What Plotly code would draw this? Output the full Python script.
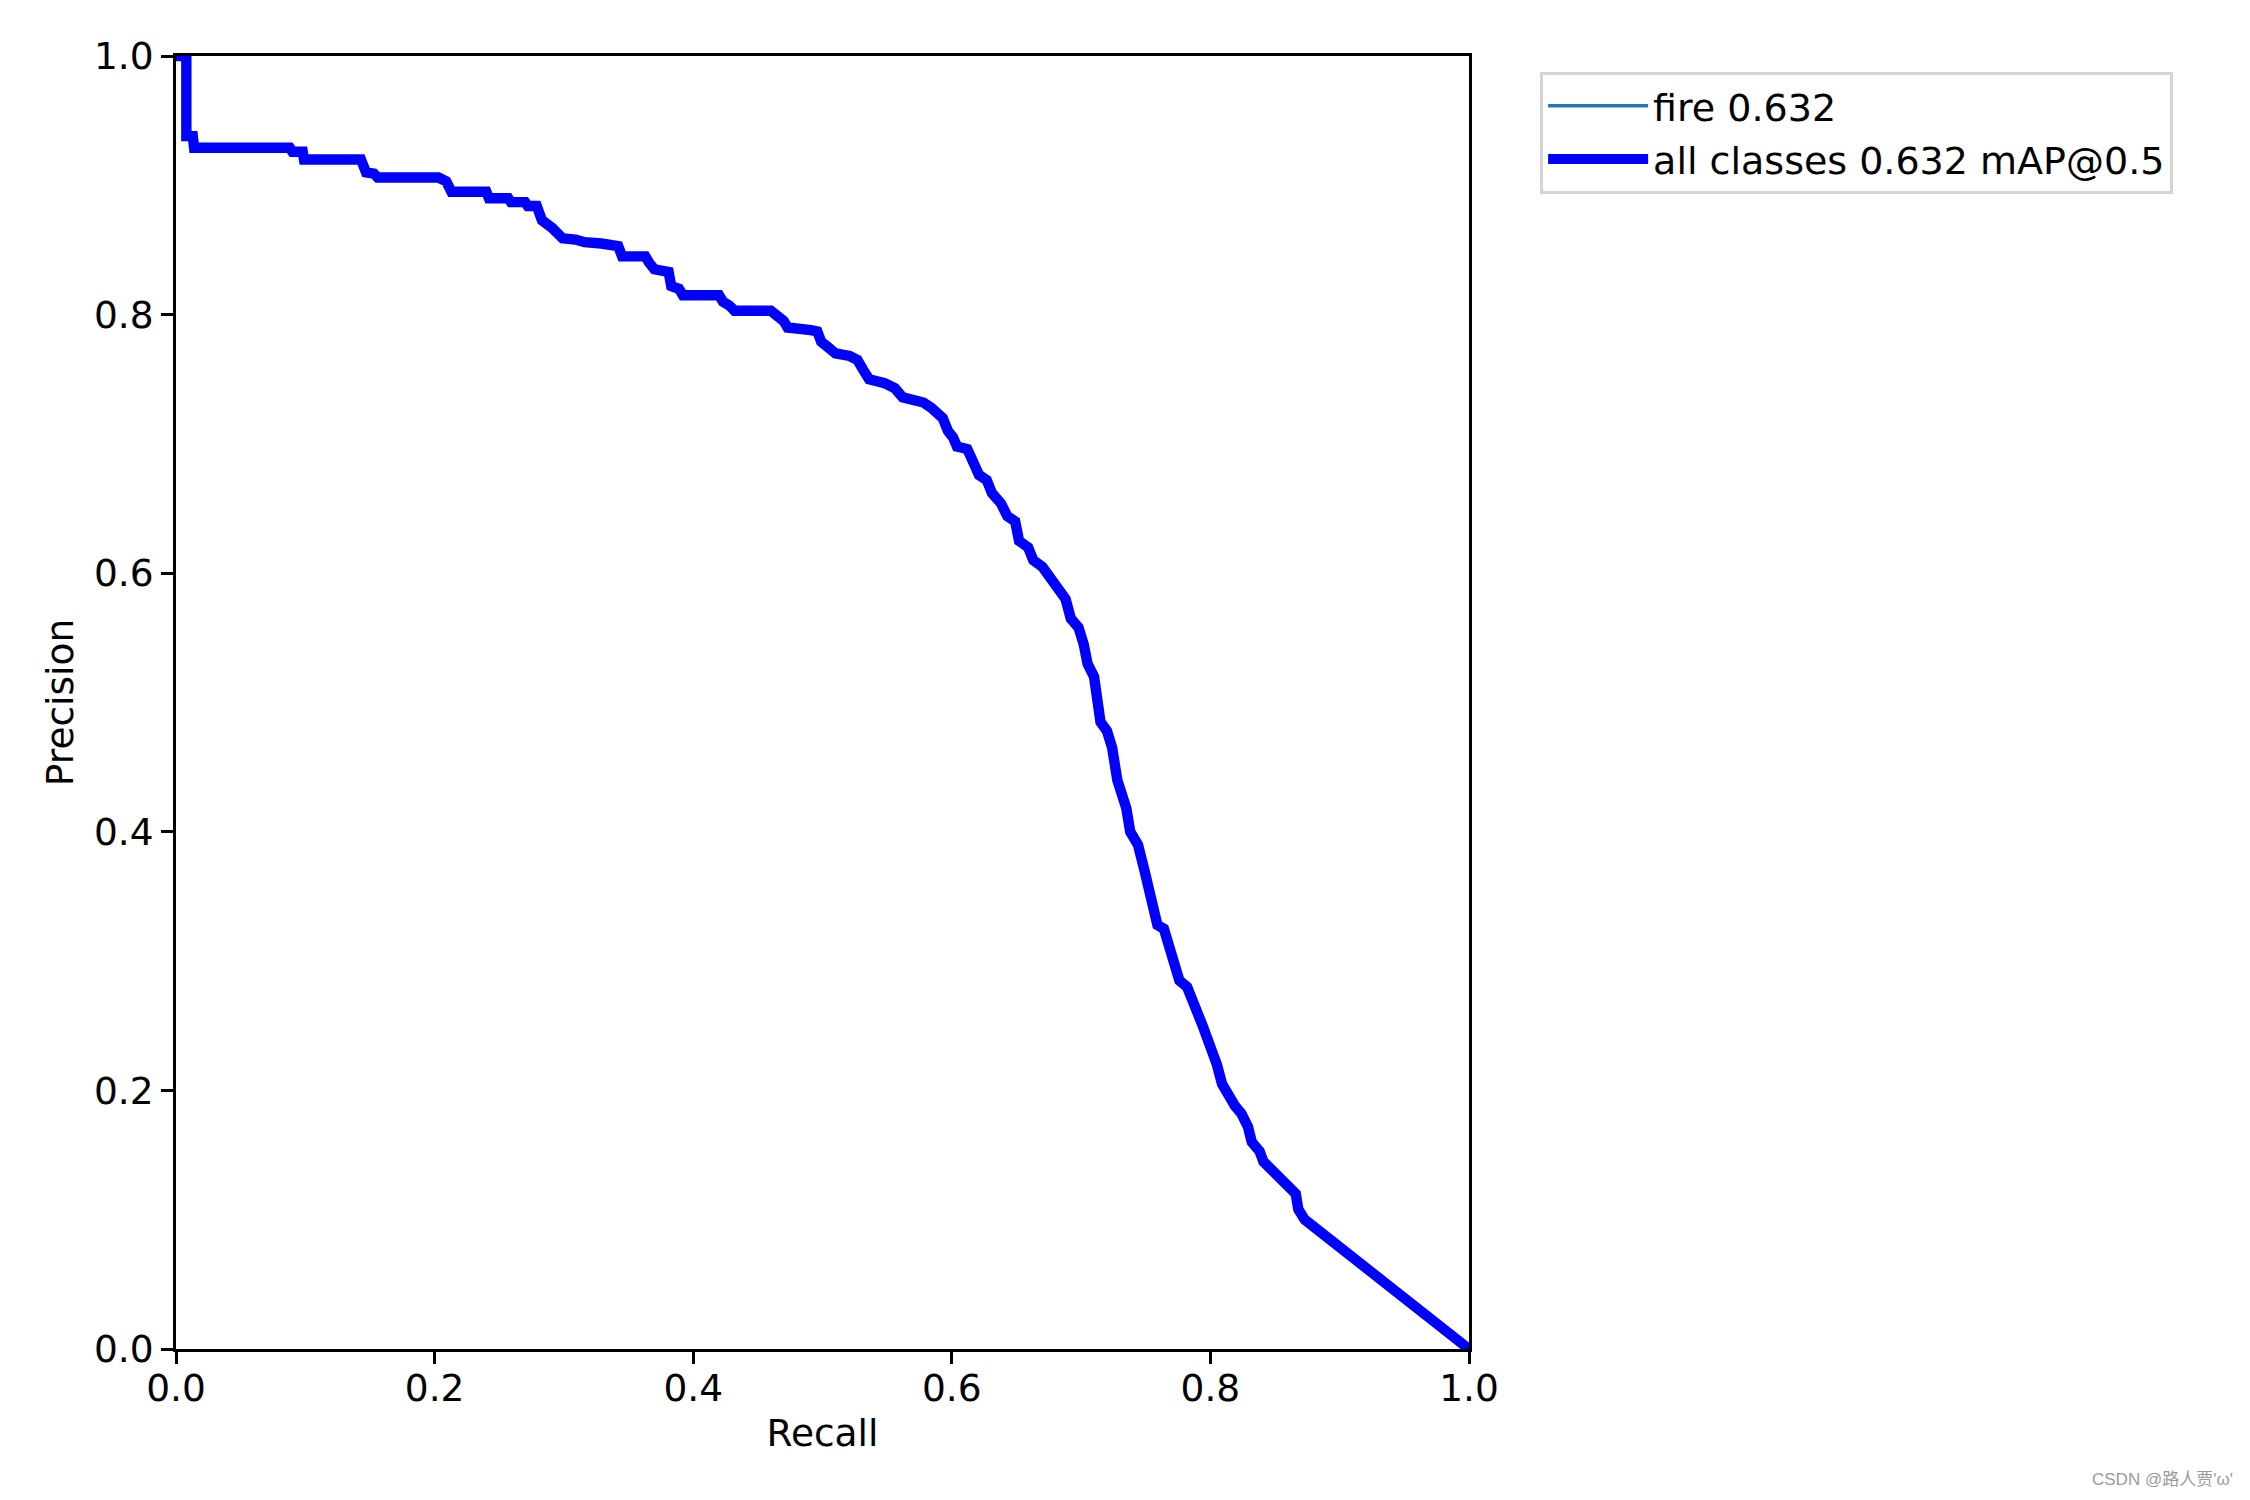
import plotly.graph_objects as go

# PR curve data (recall, precision)
recall = [0.0, 0.008, 0.008, 0.013, 0.014, 0.088, 0.090, 0.098, 0.099, 0.143, 0.147, 0.153, 0.156,
          0.203, 0.209, 0.213, 0.240, 0.242, 0.257, 0.259, 0.270, 0.272, 0.279, 0.283, 0.291, 0.299,
          0.309, 0.316, 0.329, 0.333, 0.342, 0.345, 0.363, 0.366, 0.370, 0.381, 0.383, 0.389, 0.392,
          0.420, 0.423, 0.428, 0.432, 0.460, 0.465, 0.470, 0.473, 0.487, 0.491, 0.496, 0.499, 0.504,
          0.510, 0.521, 0.527, 0.531, 0.536, 0.548, 0.556, 0.562, 0.570, 0.578, 0.584, 0.589, 0.593,
          0.597, 0.601, 0.604, 0.612, 0.617, 0.621, 0.627, 0.631, 0.638, 0.643, 0.649, 0.652, 0.659,
          0.663, 0.670, 0.675, 0.682, 0.688, 0.692, 0.698, 0.702, 0.705, 0.710, 0.712, 0.715, 0.720,
          0.724, 0.728, 0.732, 0.735, 0.738, 0.744, 0.749, 0.752, 0.756, 0.759, 0.764, 0.769, 0.773,
          0.776, 0.782, 0.787, 0.790, 0.794, 0.798, 0.802, 0.805, 0.809, 0.814, 0.819, 0.824, 0.829,
          0.832, 0.838, 0.841, 0.848, 0.852, 0.858, 0.866, 0.868, 0.873, 1.0]
precision = [1.0, 1.0, 0.938, 0.938, 0.929, 0.929, 0.926, 0.926, 0.920, 0.920, 0.910, 0.909, 0.906,
             0.906, 0.903, 0.895, 0.895, 0.890, 0.890, 0.887, 0.887, 0.884, 0.884, 0.873, 0.867, 0.859,
             0.858, 0.856, 0.855, 0.854, 0.853, 0.845, 0.845, 0.840, 0.835, 0.833, 0.822, 0.820, 0.815,
             0.815, 0.810, 0.807, 0.803, 0.803, 0.800, 0.795, 0.790, 0.790, 0.788, 0.787, 0.779, 0.775,
             0.770, 0.768, 0.765, 0.758, 0.750, 0.747, 0.743, 0.736, 0.735, 0.732, 0.728, 0.723, 0.720,
             0.710, 0.705, 0.698, 0.696, 0.685, 0.676, 0.672, 0.662, 0.654, 0.644, 0.640, 0.625, 0.620,
             0.610, 0.605, 0.598, 0.590, 0.580, 0.565, 0.558, 0.545, 0.530, 0.520, 0.500, 0.485, 0.478,
             0.465, 0.440, 0.428, 0.418, 0.400, 0.390, 0.370, 0.355, 0.345, 0.328, 0.325, 0.310, 0.295,
             0.285, 0.280, 0.270, 0.260, 0.250, 0.240, 0.230, 0.220, 0.205, 0.195, 0.188, 0.182, 0.172,
             0.160, 0.153, 0.145, 0.138, 0.132, 0.126, 0.120, 0.108, 0.100, 0.0]

class_name = "fire"
class_ap = 0.632
map50 = 0.632
tick_vals = [0.0, 0.2, 0.4, 0.6, 0.8, 1.0]
tick_text = ["0.0", "0.2", "0.4", "0.6", "0.8", "1.0"]

FONT = "DejaVu Sans"
FS = 37.5
LFS = 38

fig = go.Figure()
fig.add_trace(go.Scatter(x=recall, y=precision, mode="lines",
                         name=f"{class_name} {class_ap:.3f}", legendgroup="a",
                         line=dict(color="#1f77b4", width=3.5)))
fig.add_trace(go.Scatter(x=recall, y=precision, mode="lines",
                         name=f"all classes {map50:.3f} mAP@0.5", legendgroup="b",
                         line=dict(color="#0000ff", width=10.4)))

axis_common = dict(
    range=[0, 1], showgrid=False, zeroline=False, showline=True, mirror=True,
    linecolor="black", linewidth=2.8, ticks="outside", ticklen=12, tickwidth=2.8,
    tickcolor="black", tickvals=tick_vals, ticktext=tick_text,
    tickfont=dict(family=FONT, size=FS, color="black"),
)

fig.update_xaxes(**axis_common, ticklabelstandoff=-8,
                 title=dict(text="Recall", font=dict(family=FONT, size=FS, color="black"), standoff=11))
fig.update_yaxes(**axis_common,
                 title=dict(text="Precision", font=dict(family=FONT, size=FS, color="black"), standoff=9))

fig.update_layout(
    width=2250, height=1500,
    margin=dict(l=168, r=789, t=48, b=159, autoexpand=False),
    paper_bgcolor="white", plot_bgcolor="white",
    font=dict(family=FONT, size=FS, color="black"),
    showlegend=True,
    legend=dict(x=1.055, y=0.988, xanchor="left", yanchor="top",
                bgcolor="rgba(255,255,255,0.8)", bordercolor="#d4d4d4", borderwidth=3,
                font=dict(family=FONT, size=LFS, color="black"), itemwidth=100,
                tracegroupgap=1),
    annotations=[dict(text="CSDN @路人贾'ω'", xref="paper", yref="paper",
                      x=1.5924, y=-0.1013, xanchor="right", yanchor="middle", showarrow=False,
                      font=dict(family="Liberation Sans, Noto Sans CJK SC", size=17, color="#9a9a9a"))],
)

fig.write_html("out.html")
